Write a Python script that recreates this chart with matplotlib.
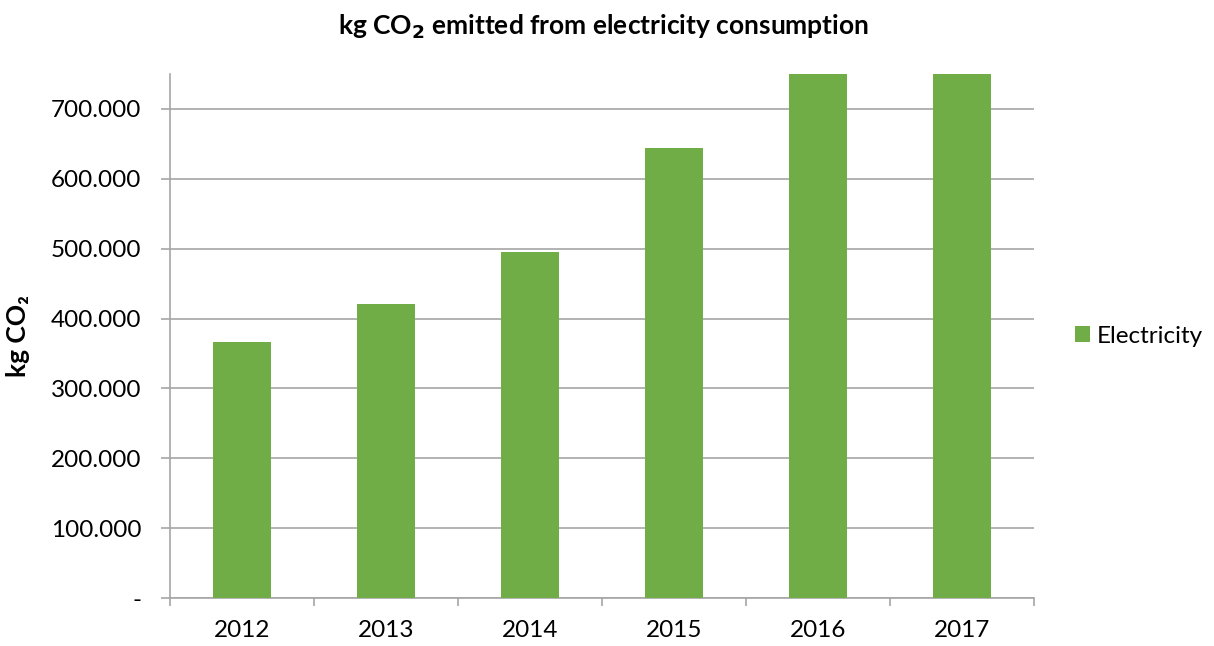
import matplotlib

matplotlib.use('Agg')
import matplotlib.pyplot as plt
from matplotlib.ticker import FuncFormatter, MultipleLocator, FixedLocator

plt.rcParams['font.family'] = ['Lato', 'DejaVu Sans']

years = ['2012', '2013', '2014', '2015', '2016', '2017']
electricity = [366000, 421000, 495000, 644000, 790000, 810000]

GREEN = '#70ad47'
GRID = '#a6a6a6'

fig = plt.figure(figsize=(12.14, 6.46), dpi=100)
ax = fig.add_axes([0.140, 0.0743, 0.712, 0.8111])

x = range(len(years))
ax.bar(x, electricity, width=0.4, color=GREEN, label='Electricity', zorder=3)

ax.set_xlim(-0.5, len(years) - 0.5)
ax.set_ylim(0, 750000)


def thousands(v, pos):
    if v == 0:
        return '-'
    return f'{int(v):,}'.replace(',', '.')


ax.yaxis.set_major_locator(MultipleLocator(100000))
ax.yaxis.set_major_formatter(FuncFormatter(thousands))
ax.grid(axis='y', color=GRID, linewidth=1.2, zorder=0)

ax.set_xticks(list(x))
ax.set_xticklabels(years)
ax.xaxis.set_minor_locator(FixedLocator([i - 0.5 for i in range(len(years) + 1)]))
ax.tick_params(axis='x', which='major', length=0, pad=16, labelsize=17.5)
ax.tick_params(axis='x', which='minor', length=6, color=GRID, width=1.2)
ax.tick_params(axis='y', length=6.5, color=GRID, width=1.2, pad=14, labelsize=17.5)

for side in ('top', 'right'):
    ax.spines[side].set_visible(False)
for side in ('left', 'bottom'):
    ax.spines[side].set_color(GRID)
    ax.spines[side].set_linewidth(1.2)

ax.set_ylabel('kg CO₂', fontsize=19, fontweight='bold', labelpad=15)
fig.suptitle('kg CO$_\\mathbf{2}$ emitted from electricity consumption',
             x=0.497, y=0.98, fontsize=19, fontweight='bold')

ax.legend(loc='center left', bbox_to_anchor=(1.022, 0.5), frameon=False,
          fontsize=17.5, handlelength=0.6, handleheight=0.6, handletextpad=0.3)

fig.savefig('out.png', dpi=100)
